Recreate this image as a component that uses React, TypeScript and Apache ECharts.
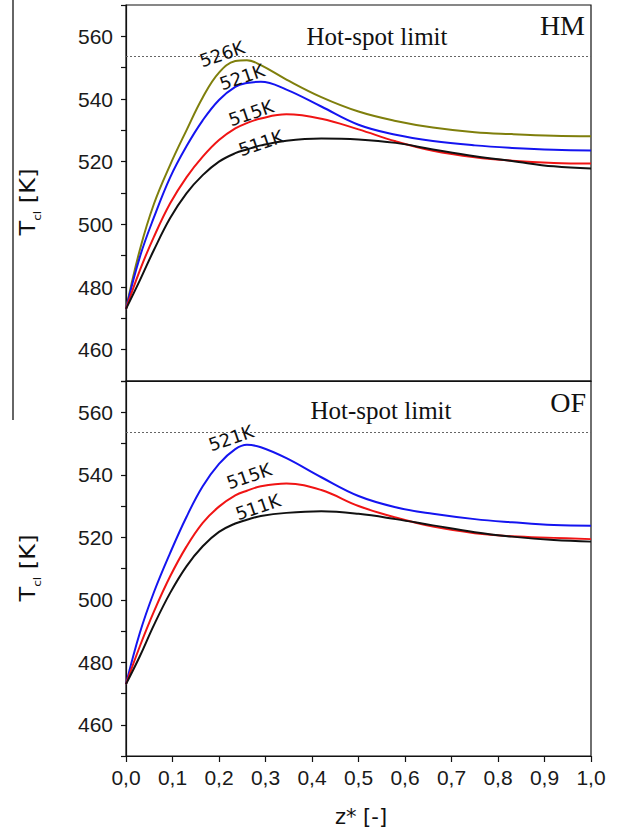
import React, { useEffect, useRef } from "react";
import * as echarts from "echarts";

// Axial coordinate grid shared by all profiles
const zGrid = [0, 0.03, 0.06, 0.095, 0.13, 0.165, 0.2, 0.235, 0.26, 0.29, 0.345, 0.42, 0.5, 0.58, 0.66, 0.75, 0.83, 0.92, 1.0];

// HM panel: centre-line temperature profiles [K]
const hm526 = [473, 492.0, 506.5, 519.0, 530.0, 540.5, 548.4, 552.1, 552.4, 550.8, 546.2, 540.6, 536.0, 533.0, 530.9, 529.4, 528.8, 528.3, 528.1];
const hm521 = [473, 489.7, 502.2, 515.0, 524.9, 533.2, 539.7, 543.9, 545.1, 545.5, 543.0, 537.6, 531.8, 528.6, 526.6, 525.2, 524.4, 523.8, 523.6];
const hm515 = [473, 485.4, 496.0, 506.7, 515.0, 521.6, 526.9, 530.6, 532.3, 533.8, 535.1, 533.7, 530.3, 526.5, 523.5, 521.4, 520.3, 519.6, 519.4];
const hm511 = [473, 482.2, 491.8, 502.0, 509.9, 515.7, 520.0, 522.7, 523.9, 525.2, 526.7, 527.4, 527.1, 526.0, 523.9, 521.7, 520.2, 518.5, 517.8];

// OF panel: centre-line temperature profiles [K]
const of521 = [473, 489.5, 502.4, 515.0, 526.5, 536.3, 543.5, 548.2, 549.6, 548.8, 545.3, 539.2, 533.2, 529.6, 527.5, 525.8, 524.8, 523.9, 523.7];
const of515 = [473, 485.2, 496.2, 507.5, 517.0, 524.6, 529.8, 533.4, 534.9, 536.3, 537.2, 535.1, 530.0, 526.3, 523.4, 521.3, 520.3, 519.8, 519.4];
const of511 = [473, 482.0, 491.9, 502.2, 510.7, 517.1, 521.7, 524.4, 525.6, 526.8, 527.8, 528.3, 527.5, 525.8, 523.8, 521.6, 520.2, 519.1, 518.6];

const hotSpotLimit = 553.5;

const yLabelValues = [460, 480, 500, 520, 540, 560];
const yTickValues = [450, 460, 470, 480, 490, 500, 510, 520, 530, 540, 550, 560, 570];
const xTickValues = [0, 0.1, 0.2, 0.3, 0.4, 0.5, 0.6, 0.7, 0.8, 0.9, 1.0];

const hmLabels = ["526K", "521K", "515K", "511K"];
const ofLabels = ["521K", "515K", "511K"];

const C_OLIVE = "#7f7f0c";
const C_BLUE = "#1414f0";
const C_RED = "#f01414";
const C_BLACK = "#111111";

const SANS = "Liberation Sans";
const SANS_WIDE = "DejaVu Sans";
const SERIF = "Liberation Serif";

function pairs(values: number[]) {
  return zGrid.map((z, i) => [z, values[i]]);
}

function lineSeries(name: string, values: number[], color: string, gi: number, withLimit: boolean) {
  const s: any = {
    name,
    type: "line",
    xAxisIndex: gi,
    yAxisIndex: gi,
    data: pairs(values),
    smooth: 0.4,
    showSymbol: false,
    symbol: "none",
    lineStyle: { color, width: 2 },
    z: 3,
  };
  if (withLimit) {
    s.markLine = {
      silent: true,
      symbol: ["none", "none"],
      label: { show: false },
      lineStyle: { type: [2, 2], color: "#666", width: 1 },
      data: [{ yAxis: hotSpotLimit }],
    };
  }
  return s;
}

function yAxis(gi: number) {
  return {
    gridIndex: gi,
    type: "value",
    position: "left",
    min: 450,
    max: 570,
    axisLine: { show: true, onZero: false, lineStyle: { color: "#111", width: 1.2 } },
    axisTick: { show: true, customValues: yTickValues, length: 5, lineStyle: { color: "#111", width: 1.2 } },
    axisLabel: { customValues: yLabelValues, margin: 13, fontSize: 21, fontFamily: SANS, color: "#1a1a1a" },
    splitLine: { show: false },
  };
}

function curveLabel(text: string, x: number, y: number) {
  return {
    type: "text",
    x,
    y,
    rotation: 0.33,
    style: {
      text,
      fontSize: 18,
      fontFamily: SANS_WIDE,
      fill: "#111",
      align: "center",
      verticalAlign: "middle",
    },
    z: 10,
  };
}

function yTitle(y: number) {
  return {
    type: "text",
    x: 27,
    y,
    rotation: Math.PI / 2,
    scaleX: 1.1,
    style: {
      text: "{t|T}{s|cl}{t| [K]}",
      align: "center",
      verticalAlign: "middle",
      fill: "#111",
      rich: {
        t: { fontSize: 22, fontFamily: SANS_WIDE, fill: "#111", lineHeight: 32, verticalAlign: "middle" },
        s: { fontSize: 11, fontFamily: SANS_WIDE, fill: "#111", lineHeight: 32, verticalAlign: "bottom" },
      },
    },
  };
}

function serifText(text: string, x: number, y: number, size: number, align: string) {
  return {
    type: "text",
    x,
    y,
    style: { text, fontSize: size, fontFamily: SERIF, fill: "#111", align, verticalAlign: "middle" },
    z: 10,
  };
}

export default function App() {
  const ref = useRef<HTMLDivElement>(null);

  useEffect(() => {
    if (!ref.current) return;
    const chart = echarts.init(ref.current, null, { renderer: "svg" });
    const option: any = {
      animation: false,
      backgroundColor: "#ffffff",
      grid: [
        { left: 126, right: 29, top: 5, height: 376, show: true, borderColor: "#111", borderWidth: 1.2, backgroundColor: "transparent" },
        { left: 126, right: 29, top: 381, height: 375, show: true, borderColor: "#111", borderWidth: 1.2, backgroundColor: "transparent" },
      ],
      xAxis: [
        {
          gridIndex: 0,
          type: "value",
          min: 0,
          max: 1,
          interval: 0.1,
          axisLine: { show: true, onZero: false, lineStyle: { color: "#111", width: 1.2 } },
          axisTick: { show: false },
          axisLabel: { show: false },
          splitLine: { show: false },
        },
        {
          gridIndex: 1,
          type: "value",
          min: 0,
          max: 1,
          interval: 0.1,
          axisLine: { show: true, onZero: false, lineStyle: { color: "#111", width: 1.2 } },
          axisTick: { show: true, customValues: xTickValues, length: 6, lineStyle: { color: "#111", width: 1.2 } },
          axisLabel: {
            customValues: xTickValues,
            margin: 11,
            fontSize: 21,
            fontFamily: SANS,
            color: "#1a1a1a",
            formatter: (v: number) => v.toFixed(1).replace(".", ","),
          },
          splitLine: { show: false },
        },
      ],
      yAxis: [yAxis(0), yAxis(1)],
      series: [
        lineSeries("526K", hm526, C_OLIVE, 0, true),
        lineSeries("521K", hm521, C_BLUE, 0, false),
        lineSeries("515K", hm515, C_RED, 0, false),
        lineSeries("511K", hm511, C_BLACK, 0, false),
        lineSeries("521K", of521, C_BLUE, 1, true),
        lineSeries("515K", of515, C_RED, 1, false),
        lineSeries("511K", of511, C_BLACK, 1, false),
      ],
      graphic: [
        { type: "line", shape: { x1: 13, y1: 0, x2: 13, y2: 420 }, style: { stroke: "#333", lineWidth: 1.5 } },
        yTitle(202),
        yTitle(568),
        {
          type: "text",
          x: 361,
          y: 817,
          style: { text: "z* [-]", fontSize: 21, fontFamily: SANS_WIDE, fill: "#111", align: "center", verticalAlign: "middle" },
        },
        serifText("Hot-spot limit", 377, 36, 25, "center"),
        serifText("HM", 585, 25, 28, "right"),
        serifText("Hot-spot limit", 381, 410, 25, "center"),
        serifText("OF", 586, 402, 28, "right"),
        curveLabel(hmLabels[0], 222, 54),
        curveLabel(hmLabels[1], 242, 77),
        curveLabel(hmLabels[2], 251, 113),
        curveLabel(hmLabels[3], 261, 143),
        curveLabel(ofLabels[0], 231, 438),
        curveLabel(ofLabels[1], 249, 476),
        curveLabel(ofLabels[2], 258, 507),
      ],
    };
    chart.setOption(option);
    return () => chart.dispose();
  }, []);

  return (
    <div
      ref={ref}
      style={{ position: "fixed", left: 0, top: 0, width: 620, height: 833, background: "#fff" }}
    />
  );
}
